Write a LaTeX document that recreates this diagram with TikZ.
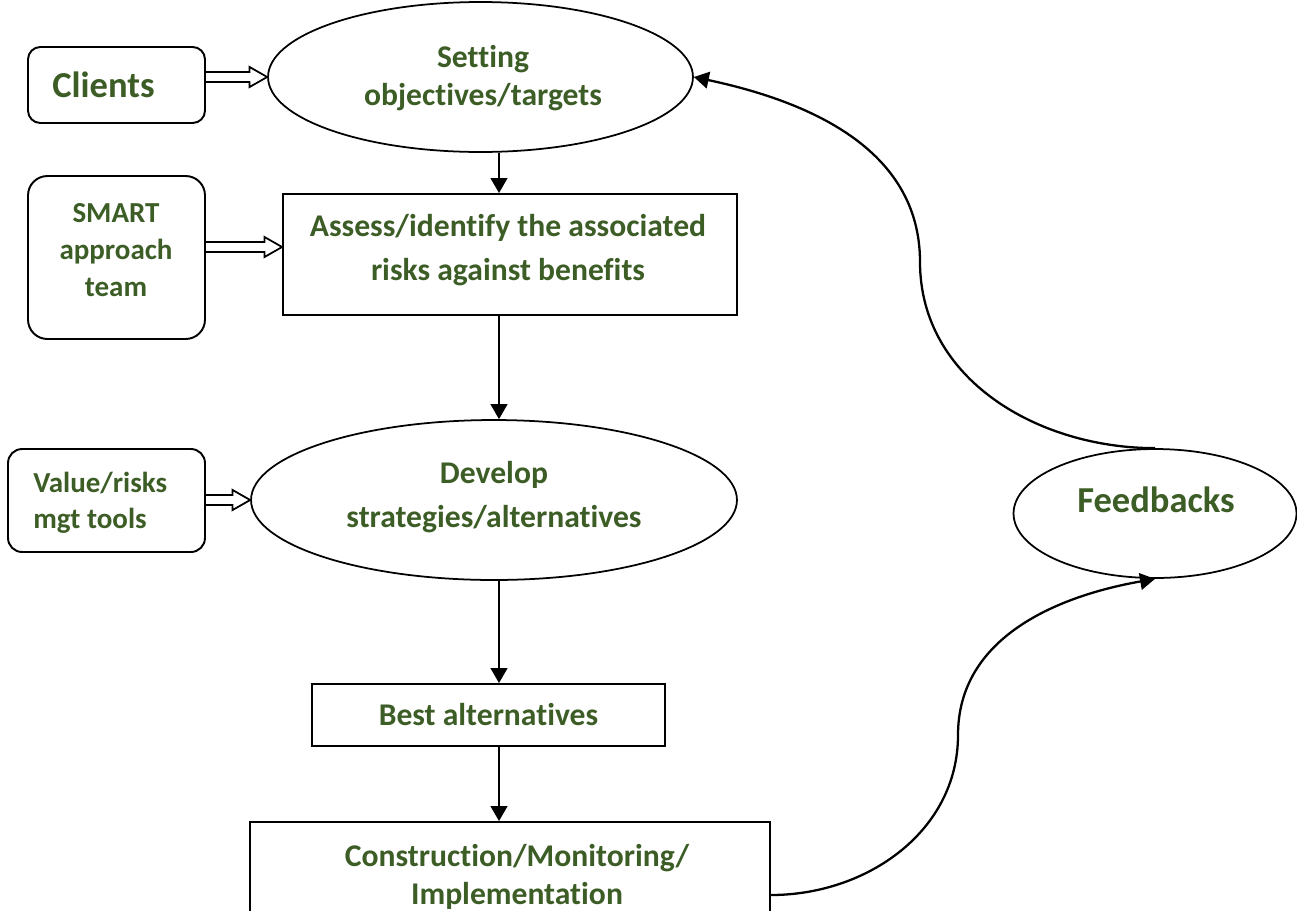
\documentclass[tikz,border=0pt]{standalone}
\usepackage{fontspec}
\setmainfont{Carlito}[Ligatures=NoCommon]
\usetikzlibrary{shapes.geometric,arrows.meta,calc}
\definecolor{txtgreen}{RGB}{61,93,38}
\newcommand{\fsz}[2]{\fontsize{#1}{#2}\selectfont\bfseries}
% hollow (double) arrow from a node border to another node border
\newcommand{\hollowarr}[2]{%
  \draw[hollow] let \p1=(#1), \p2=(#2) in
    (\x1,\y2+2.8pt) -- (\x2-10pt,\y2+2.8pt) -- (\x2-10pt,\y2+5.7pt) -- (\x2,\y2)
    -- (\x2-10pt,\y2-5.7pt) -- (\x2-10pt,\y2-2.8pt) -- (\x1,\y2-2.8pt);}

\tikzset{
  box/.style={draw,line width=1.1pt,inner sep=0pt},
  oval/.style={draw,ellipse,line width=1pt,inner sep=0pt},
  txt/.style={text=txtgreen,inner sep=0pt,align=center},
  flow/.style={line width=1.1pt,-{Triangle[width=9.5pt,length=8.5pt]}},
  loop/.style={flow,line width=1.3pt},
  hollow/.style={line width=1pt,line join=miter},
}

\begin{document}
\begin{tikzpicture}[x=0.02cm,y=-0.02cm]
\useasboundingbox (0,0) rectangle (1297,910);
\clip (0,0) rectangle (1297,910);

% shapes
\node[box,rounded corners=7pt,minimum width=3.54cm,minimum height=1.52cm] (clients) at (116.5,85) {};
\node[oval,minimum width=8.5cm,minimum height=3cm] (set) at (480.5,77) {};
\node[box,rounded corners=11pt,minimum width=3.54cm,minimum height=3.26cm] (smart) at (116.5,257.5) {};
\node[box,minimum width=9.08cm,minimum height=2.42cm] (assess) at (510,254.5) {};
\node[box,rounded corners=8pt,minimum width=3.94cm,minimum height=2.06cm] (val) at (106.5,500.5) {};
\node[oval,minimum width=9.72cm,minimum height=3.2cm] (dev) at (494,500) {};
\node[box,minimum width=7.06cm,minimum height=1.24cm] (best) at (488.5,715) {};
\node[box,minimum width=10.4cm,minimum height=2.92cm] (con) at (510,895) {};
\node[oval,minimum width=5.66cm,minimum height=2.58cm] (fb) at (1155,513.5) {};

% texts
\node[txt,font=\fsz{20.8}{25}] (clients-t) at (103.5,85) {Clients};
\node[txt,font=\fsz{18}{22}] (set-t) at (483,78) {Setting\\objectives/targets};
\node[txt,font=\fsz{16.5}{21}] (smart-t) at (116,250) {SMART\\approach\\team};
\node[txt,font=\fsz{18}{25.5}] (assess-t) at (508,250) {Assess/identify the associated\\risks against benefits};
\node[txt,align=left,anchor=west,font=\fsz{16.5}{20.8}] (val-t) at (33,503) {Value/risks\\mgt tools};
\node[txt,font=\fsz{18}{25.5}] (dev-t) at (494,497) {Develop\\strategies/alternatives};
\node[txt,font=\fsz{18}{22}] (best-t) at (488.5,715) {Best alternatives};
\node[txt,font=\fsz{18}{21.5}] (con-t) at (517,877) {Construction/Monitoring/\\Implementation};
\node[txt,font=\fsz{20.8}{25}] (fb-t) at (1156,500) {Feedbacks};

% main column
\coordinate (axis) at (499,0);
\draw[flow] (set.south -| axis) -- (assess.north -| axis);
\draw[flow] (assess.south -| axis) -- (dev.north -| axis);
\draw[flow] (dev.south -| axis) -- (best.north -| axis);
\draw[flow] (best.south -| axis) -- (con.north -| axis);

% inputs
\hollowarr{clients.east}{set.west}
\hollowarr{smart.east}{[yshift=0.15cm]assess.west}
\hollowarr{val.east}{dev.west}

% feedback loop
\coordinate (conbend) at (958,735);
\coordinate (fbbend) at (920,262);
\draw[loop] (con.east) to[out=0,in=-90] (conbend) to[out=90,in=190] (fb.south);
\draw[loop] (fb.north) to[out=180,in=-90] (fbbend) to[out=90,in=-12] (set.east);
\end{tikzpicture}
\end{document}
